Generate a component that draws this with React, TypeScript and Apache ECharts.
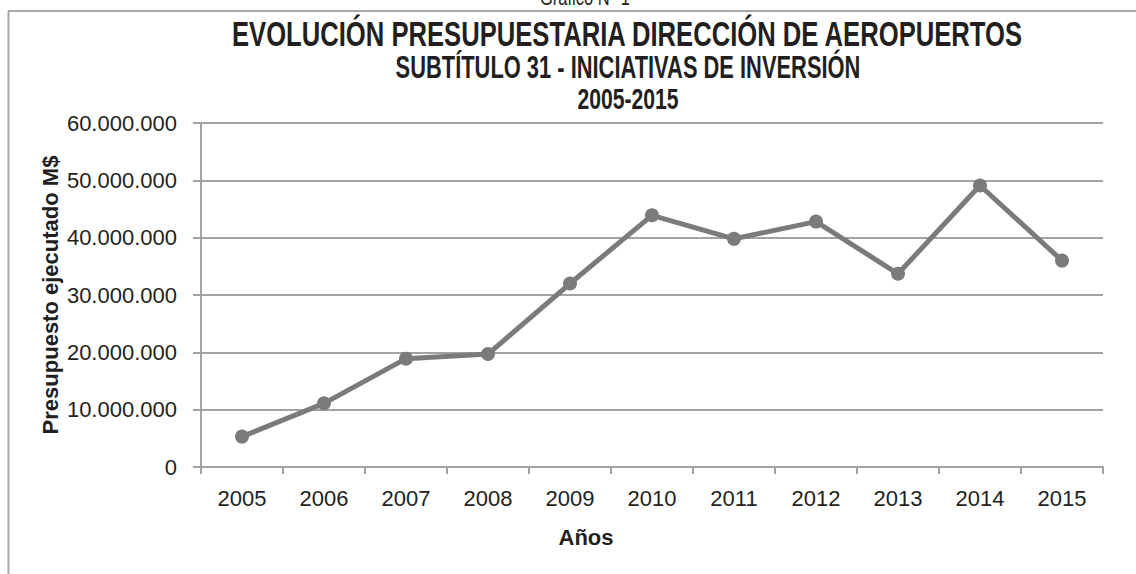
import React, { useEffect, useRef } from "react";
import * as echarts from "echarts";

const years = ["2005", "2006", "2007", "2008", "2009", "2010", "2011", "2012", "2013", "2014", "2015"];
const budget = [5300000, 11100000, 18900000, 19700000, 32000000, 43900000, 39800000, 42800000, 33700000, 49100000, 36000000];

const titleText = "EVOLUCIÓN PRESUPUESTARIA DIRECCIÓN DE AEROPUERTOS";
const subtitleText = "SUBTÍTULO 31 - INICIATIVAS DE INVERSIÓN";
const periodText = "2005-2015";
const figureLabel = "Gráfico N° 1";
const yAxisName = "Presupuesto ejecutado M$";
const xAxisName = "Años";

const FONT = "'Liberation Sans', Arial, sans-serif";
const GRID = "#a3a3a3";
const LINE = "#7b7b7d";
const TEXT = "#231f20";

function fmt(v: number): string {
  return String(v).replace(/\B(?=(\d{3})+(?!\d))/g, ".");
}

export default function App() {
  const ref = useRef<HTMLDivElement>(null);
  useEffect(() => {
    if (!ref.current) return;
    const chart = echarts.init(ref.current, null, { renderer: "svg" });
    chart.setOption({
      animation: false,
      backgroundColor: "#ffffff",
      graphic: [
        { type: "line", shape: { x1: 8, y1: 11, x2: 1136, y2: 11 }, style: { stroke: "#a8a8a8", lineWidth: 2 } },
        { type: "line", shape: { x1: 8.5, y1: 11, x2: 8.5, y2: 574 }, style: { stroke: "#a8a8a8", lineWidth: 2 } },
        { type: "text", x: 585, y: 8, scaleX: 0.75, style: { text: figureLabel, align: "center", verticalAlign: "bottom",
          font: "22px " + FONT, fill: TEXT } },
        { type: "text", x: 627, y: 34, scaleX: 0.712, style: { text: titleText, align: "center", verticalAlign: "middle",
          font: "bold 36px " + FONT, fill: TEXT } },
        { type: "text", x: 628, y: 68, scaleX: 0.706, style: { text: subtitleText, align: "center", verticalAlign: "middle",
          font: "bold 31px " + FONT, fill: TEXT } },
        { type: "text", x: 628, y: 99, scaleX: 0.73, style: { text: periodText, align: "center", verticalAlign: "middle",
          font: "bold 29px " + FONT, fill: TEXT } },
      ],
      grid: { left: 201, right: 33, top: 123, bottom: 107, containLabel: false },
      xAxis: {
        type: "category",
        data: years,
        boundaryGap: true,
        name: xAxisName,
        nameLocation: "middle",
        nameGap: 59,
        nameMoveOverlap: false,
        nameTextStyle: { fontFamily: FONT, fontWeight: "bold", fontSize: 22, color: TEXT, padding: [0, 132, 0, 0] },
        axisLine: { lineStyle: { color: GRID, width: 2 } },
        axisTick: { show: true, length: 7, interval: 0, lineStyle: { color: GRID, width: 2 } },
        axisLabel: { margin: 20, fontFamily: FONT, fontSize: 22, color: TEXT, interval: 0 },
        splitLine: { show: false },
      },
      yAxis: {
        type: "value",
        min: 0,
        max: 60000000,
        interval: 10000000,
        name: yAxisName,
        nameLocation: "middle",
        nameGap: 140,
        nameMoveOverlap: false,
        nameTextStyle: { fontFamily: FONT, fontWeight: "bold", fontSize: 22, color: TEXT },
        axisLine: { show: true, lineStyle: { color: GRID, width: 2 } },
        axisTick: { show: true, length: 8, lineStyle: { color: GRID, width: 2 } },
        axisLabel: { margin: 24, fontFamily: FONT, fontSize: 22, color: TEXT, formatter: (v: number) => fmt(v) },
        splitLine: { show: true, lineStyle: { color: GRID, width: 2 } },
      },
      series: [
        {
          type: "line",
          data: budget,
          symbol: "circle",
          symbolSize: 14,
          lineStyle: { color: LINE, width: 5 },
          itemStyle: { color: LINE },
        },
      ],
    });
    return () => chart.dispose();
  }, []);
  return <div ref={ref} style={{ position: "fixed", left: 0, top: 0, width: 1136, height: 574 }} />;
}
